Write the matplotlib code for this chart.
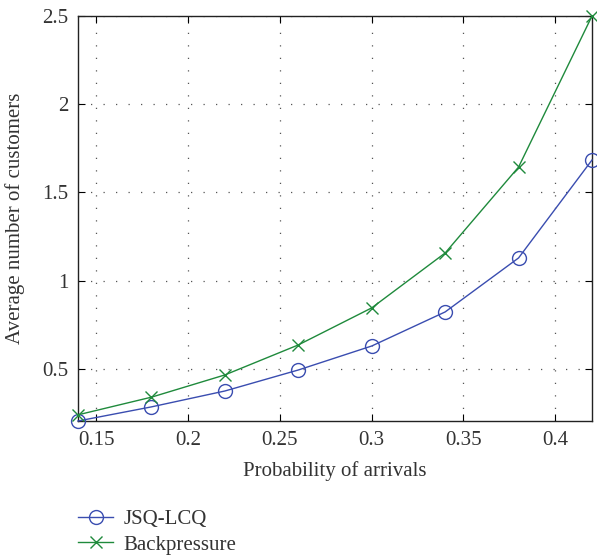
import numpy as np
import matplotlib.pyplot as plt

plt.rcParams['font.family'] = ['Liberation Serif', 'DejaVu Serif']

arrival_prob = [0.14, 0.18, 0.22, 0.26, 0.30, 0.34, 0.38, 0.42]
jsq_lcq = [0.205, 0.285, 0.375, 0.494, 0.630, 0.823, 1.129, 1.684]
backpressure = [0.240, 0.340, 0.466, 0.636, 0.846, 1.157, 1.644, 2.500]

xticks = [0.15, 0.2, 0.25, 0.3, 0.35, 0.4]
xtick_labels = ['0.15', '0.2', '0.25', '0.3', '0.35', '0.4']
yticks = [0.5, 1, 1.5, 2, 2.5]
ytick_labels = ['0.5', '1', '1.5', '2', '2.5']

blue = '#3a4db0'
green = '#1f8a3c'

fig = plt.figure(figsize=(5.97, 5.57), dpi=100)
ax = fig.add_axes([78 / 597, 1 - 421 / 557, (592 - 78) / 597, (421 - 16) / 557])

ax.plot(arrival_prob, jsq_lcq, color=blue, lw=1.0, marker='o', ms=10,
        mfc='none', mec=blue, mew=1.0, label='JSQ-LCQ', clip_on=False, zorder=3)
ax.plot(arrival_prob, backpressure, color=green, lw=1.0, marker='x', ms=8.5,
        mew=1.0, label='Backpressure', clip_on=False, zorder=3)

ax.set_xlim(0.14, 0.42)
ax.set_ylim(0.205, 2.5)
ax.set_xticks(xticks)
ax.set_xticklabels(xtick_labels)
ax.set_yticks(yticks)
ax.set_yticklabels(ytick_labels)
ax.tick_params(direction='in', top=True, right=True, labelsize=15, length=5,
               width=0.8, pad=7, labelcolor='#333333')
ax.grid(True, linestyle=(0, (1, 9)), color='#555555', lw=0.9)
for s in ax.spines.values():
    s.set_linewidth(1.0)
    s.set_color('#222222')

ax.set_xlabel('Probability of arrivals', fontsize=15, labelpad=8, color='#333333')
ax.set_ylabel('Average number of customers', fontsize=15, labelpad=12, color='#333333')

ax.legend(loc='upper left', bbox_to_anchor=(0.0, -0.218), frameon=False,
          fontsize=15, handlelength=1.7, handletextpad=0.5, labelspacing=0.3,
          borderpad=0, borderaxespad=0, labelcolor='#333333')

fig.savefig('out.png', dpi=100)
